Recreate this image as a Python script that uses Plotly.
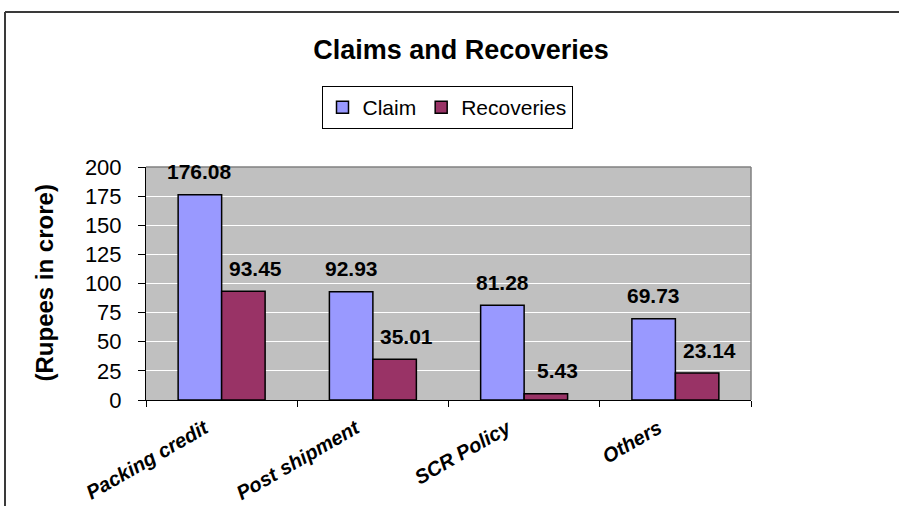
import plotly.graph_objects as go

# Claims and recoveries by category (Rupees in crore)
categories = ["Packing credit", "Post shipment", "SCR Policy", "Others"]
claim = [176.08, 92.93, 81.28, 69.73]
recoveries = [93.45, 35.01, 5.43, 23.14]
y_ticks = [0, 25, 50, 75, 100, 125, 150, 175, 200]

W, H = 899, 506
L, R, T, B = 146, 148, 167, 106
font_family = "Liberation Sans, Arial, sans-serif"

fig = go.Figure()
fig.add_trace(go.Bar(
    name="Claim", x=categories, y=claim,
    marker=dict(color="#9999FF", line=dict(color="black", width=1.5)),
))
fig.add_trace(go.Bar(
    name="Recoveries", x=categories, y=recoveries,
    marker=dict(color="#993366", line=dict(color="black", width=1.5)),
))

# value labels above each bar
plot_w = W - L - R
half_bar = plot_w / len(categories) * (1 - 0.425) / 4
label_font = dict(family=font_family, size=21, color="black", weight="bold")
annotations = []
for cat, v in zip(categories, claim):
    annotations.append(dict(x=cat, y=v, xref="x", yref="y", text=f"{v:.2f}",
                            showarrow=False, xshift=-half_bar, yshift=23,
                            yanchor="middle", font=label_font))
for cat, v in zip(categories, recoveries):
    annotations.append(dict(x=cat, y=v, xref="x", yref="y", text=f"{v:.2f}",
                            showarrow=False, xshift=half_bar + 12, yshift=23,
                            yanchor="middle", font=label_font))

# y-axis title
annotations.append(dict(x=(44 - L) / plot_w, y=0.5, xref="paper", yref="paper",
                        text="(Rupees in crore)", textangle=-90, showarrow=False,
                        xanchor="center", yanchor="middle",
                        font=dict(family=font_family, size=24, color="black", weight="bold")))

plot_h = H - T - B
def px_x(px):
    return (px - L) / plot_w

def px_y(py):
    return (H - B - py) / plot_h

shapes = [
    # plot frame (top and right edges)
    dict(type="line", xref="paper", yref="paper", x0=0, x1=1, y0=1, y1=1,
         line=dict(color="#808080", width=1.5)),
    dict(type="line", xref="paper", yref="paper", x0=1, x1=1, y0=0, y1=1,
         line=dict(color="#808080", width=1.5)),
    # chart border
    dict(type="line", xref="paper", yref="paper", x0=px_x(5), x1=px_x(905),
         y0=px_y(12), y1=px_y(12), line=dict(color="#3a3a3a", width=2)),
    dict(type="line", xref="paper", yref="paper", x0=px_x(5), x1=px_x(5),
         y0=px_y(12), y1=px_y(520), line=dict(color="#3a3a3a", width=2)),
]

fig.update_layout(
    width=W, height=H,
    margin=dict(l=L, r=R, t=T, b=B, autoexpand=False),
    paper_bgcolor="white",
    plot_bgcolor="#C0C0C0",
    barmode="group", bargap=0.425, bargroupgap=0,
    font=dict(family=font_family, color="black"),
    title=dict(text="Claims and Recoveries", x=px_x(461), xref="paper", xanchor="center",
               y=1 - 50 / H, yref="container", yanchor="middle",
               font=dict(family=font_family, size=27, color="black", weight="bold")),
    legend=dict(orientation="h", x=px_x(447), xanchor="center", y=px_y(107.5), yanchor="middle",
                bordercolor="black", borderwidth=1, bgcolor="white",
                font=dict(family=font_family, size=21, color="black"),
                itemwidth=30),
    xaxis=dict(
        automargin=False,
        showline=True, linecolor="black", linewidth=1,
        ticks="outside", ticklen=6, tickcolor="black", tickson="boundaries",
        tickangle=-30, showgrid=False,
        ticklabelstandoff=8, ticklabelshift=-17,
        tickfont=dict(family=font_family, size=20, color="black", weight="bold", style="italic"),
    ),
    yaxis=dict(
        automargin=False,
        range=[0, 200], tickvals=y_ticks,
        showline=True, linecolor="black", linewidth=1,
        ticks="outside", ticklen=7, tickcolor="black",
        ticklabelstandoff=12,
        showgrid=True, gridcolor="white", gridwidth=1, zeroline=False,
        tickfont=dict(family=font_family, size=22, color="black"),
    ),
    annotations=annotations,
    shapes=shapes,
)

fig.write_html("out.html")
